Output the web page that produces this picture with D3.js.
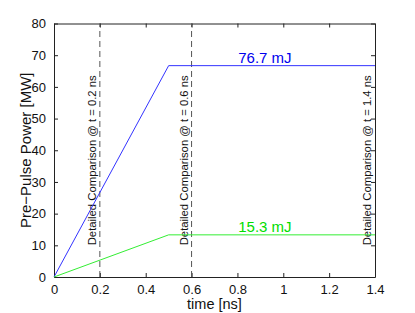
<!DOCTYPE html>
<html>
<head>
<meta charset="utf-8">
<script src="https://cdn.jsdelivr.net/npm/d3@7"></script>
<style>
  body { margin: 0; background: #fff; }
  svg { font-family: "Liberation Sans", Arial, sans-serif; }
  .axis path, .axis line { stroke: #222; }
  .axis text { font-size: 13px; fill: #111; }
</style>
</head>
<body>
<div id="chart"></div>
<script>
let width = 415;
let height = 313;
let padding = { left: 54, right: 40, top: 23.5, bottom: 36 };

// data
let timeBlue = [0, 0.5, 1.4];
let powerBlue = [0, 66.7, 66.7];
let timeGreen = [0, 0.5, 1.4];
let powerGreen = [0, 13.3, 13.3];
let markerTimes = [0.2, 0.6, 1.4];
let markerLabels = ['Detailed Comparison @ t = 0.2 ns', 'Detailed Comparison @ t = 0.6 ns', 'Detailed Comparison @ t = 1.4 ns'];
let energyLabels = ['76.7 mJ', '15.3 mJ'];
let xTicks = [0, 0.2, 0.4, 0.6, 0.8, 1, 1.2, 1.4];
let yTicks = [0, 10, 20, 30, 40, 50, 60, 70, 80];

let svg = d3.select('#chart').append('svg')
    .attr('width', width).attr('height', height);

let xScale = d3.scaleLinear()
    .domain([0, 1.4])
    .range([padding.left, width - padding.right]);
let yScale = d3.scaleLinear()
    .domain([0, 80])
    .range([height - padding.bottom, padding.top]);

// axes (ticks inward, mirrored)
svg.append('g').attr('class', 'axis')
    .attr('transform', 'translate(0,' + yScale(0) + ')')
    .call(d3.axisBottom(xScale).tickValues(xTicks).tickSize(-4).tickSizeOuter(0).tickPadding(8)
        .tickFormat(d => d3.format('')(+d.toFixed(1))));
svg.append('g').attr('class', 'axis')
    .attr('transform', 'translate(0,' + yScale(80) + ')')
    .call(d3.axisTop(xScale).tickValues(xTicks).tickSize(-4).tickSizeOuter(0).tickFormat(''));
svg.append('g').attr('class', 'axis')
    .attr('transform', 'translate(' + xScale(0) + ',0)')
    .call(d3.axisLeft(yScale).tickValues(yTicks).tickSize(-4).tickSizeOuter(0).tickPadding(8));
svg.append('g').attr('class', 'axis')
    .attr('transform', 'translate(' + xScale(1.4) + ',0)')
    .call(d3.axisRight(yScale).tickValues(yTicks).tickSize(-4).tickSizeOuter(0).tickFormat(''));

// dashed markers
svg.selectAll('.marker')
    .data(markerTimes.filter(t => t < 1.4))
    .enter().append('line')
    .attr('x1', d => xScale(d)).attr('x2', d => xScale(d))
    .attr('y1', yScale(0)).attr('y2', yScale(80))
    .attr('stroke', '#555').attr('stroke-width', 1)
    .attr('stroke-dasharray', '6,4');

svg.selectAll('.marker-label')
    .data(markerTimes)
    .enter().append('text')
    .attr('transform', d => 'translate(' + (xScale(d) - 4) + ',' + yScale(10) + ') rotate(-90)')
    .attr('font-size', '11.3px')
    .attr('fill', '#111')
    .text((d, i) => markerLabels[i]);

let line = d3.line().x(d => xScale(d[0])).y(d => yScale(d[1]));
svg.append('path')
    .datum(timeBlue.map((t, i) => [t, powerBlue[i]]))
    .attr('d', line).attr('fill', 'none').attr('stroke', '#3333ff').attr('stroke-width', 1);
svg.append('path')
    .datum(timeGreen.map((t, i) => [t, powerGreen[i]]))
    .attr('d', line).attr('fill', 'none').attr('stroke', '#33ee33').attr('stroke-width', 1);

svg.append('text')
    .attr('x', xScale(0.92)).attr('y', yScale(powerBlue[1]) - 3)
    .attr('text-anchor', 'middle').attr('font-size', '15px').attr('fill', '#0000ee')
    .text(energyLabels[0]);
svg.append('text')
    .attr('x', xScale(0.92)).attr('y', yScale(powerGreen[1]) - 3)
    .attr('text-anchor', 'middle').attr('font-size', '15px').attr('fill', '#00dd00')
    .text(energyLabels[1]);

// axis titles
svg.append('text')
    .attr('x', xScale(0.7)).attr('y', 309)
    .attr('text-anchor', 'middle').attr('font-size', '14.5px').attr('fill', '#111')
    .text('time [ns]');
svg.append('text')
    .attr('transform', 'translate(31,' + yScale(40) + ') rotate(-90)')
    .attr('text-anchor', 'middle').attr('font-size', '15px').attr('fill', '#111')
    .text('Pre\u2212Pulse Power [MW]');
</script>
</body>
</html>
